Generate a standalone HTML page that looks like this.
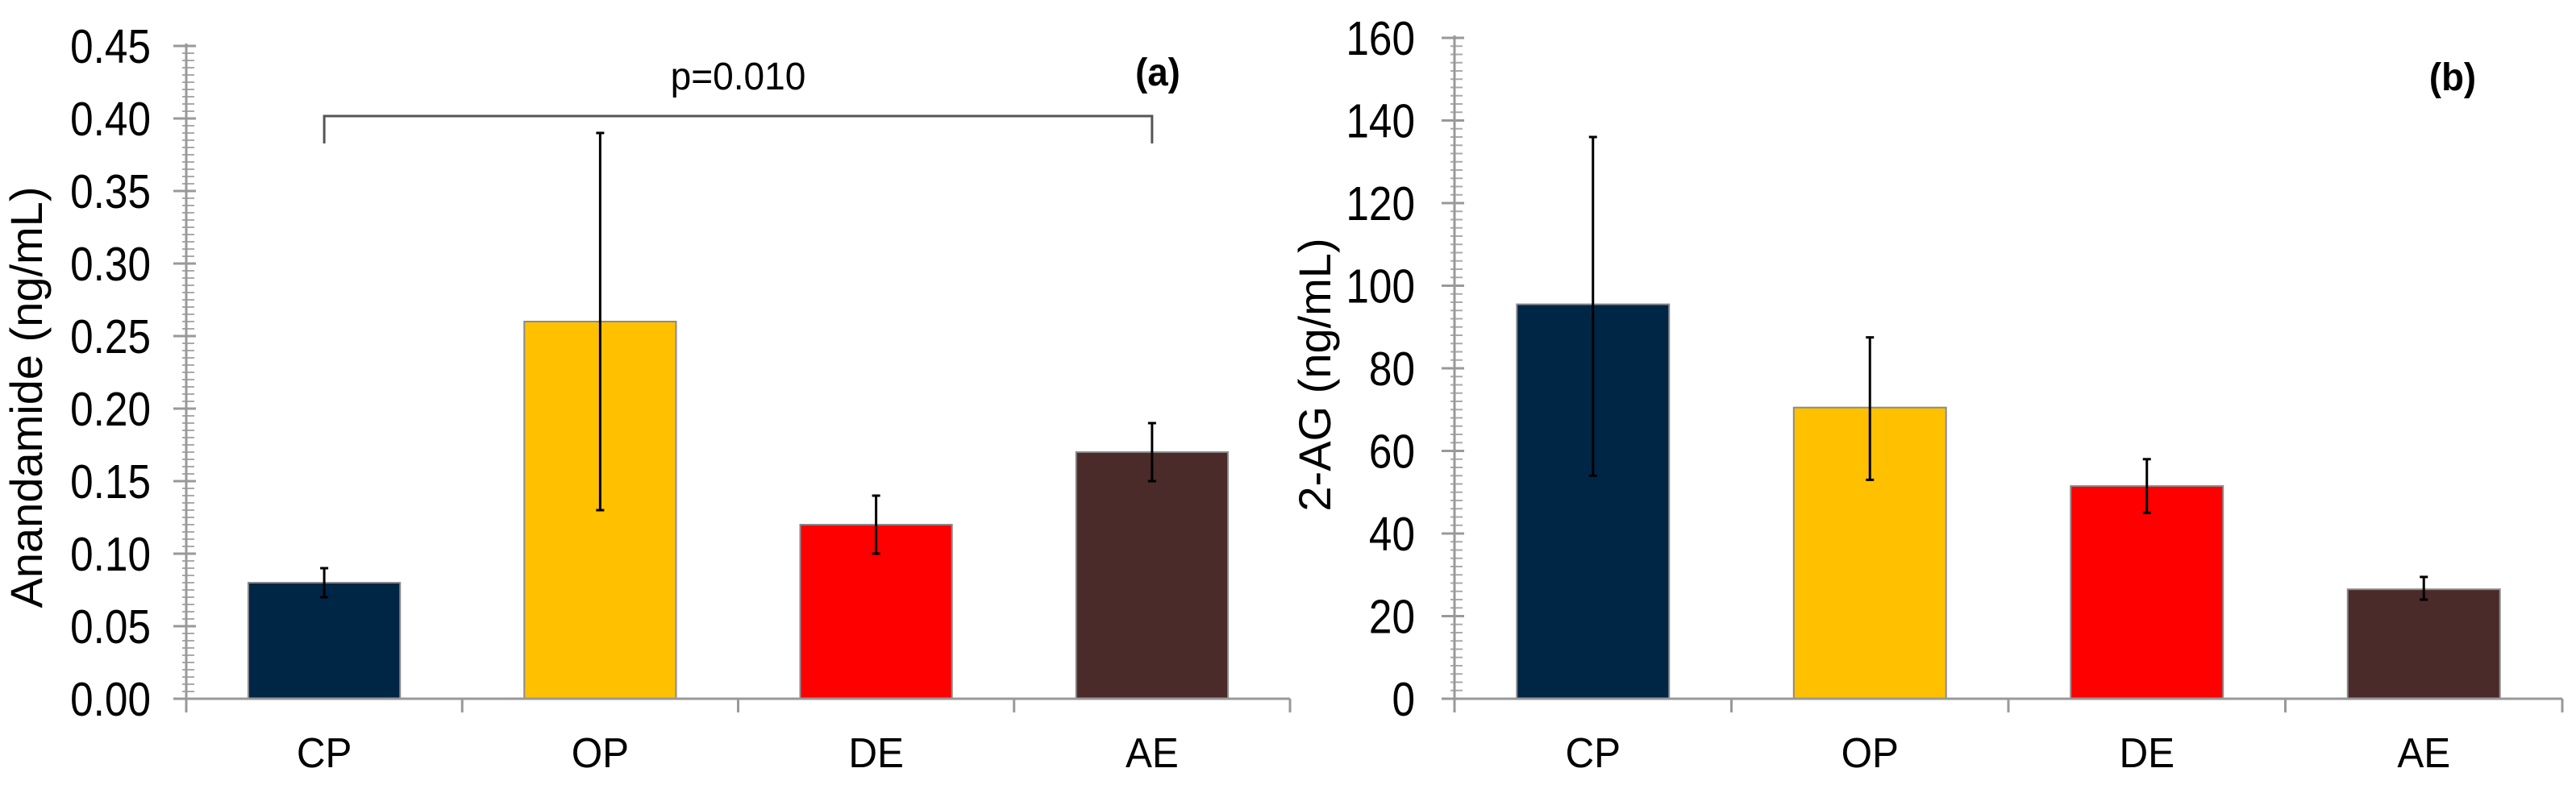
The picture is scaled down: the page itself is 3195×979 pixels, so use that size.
<!DOCTYPE html>
<html><head><meta charset="utf-8"><style>
html,body{margin:0;padding:0;background:#fff;overflow:hidden;}
svg{display:block;font-family:"Liberation Sans",Arial,sans-serif;}
</style></head><body>
<svg id="chart" width="3195" height="979" viewBox="0 0 3195 979" xmlns="http://www.w3.org/2000/svg"></svg>
<script>
const categories = ["CP","OP","DE","AE"];
const colors = ["#002646","#FFC000","#FF0000","#4B2A2A"];
const aValues = [0.08,0.26,0.12,0.17];
const aErrLow = [0.07,0.13,0.10,0.15];
const aErrHigh = [0.09,0.39,0.14,0.19];
const aTicks = ["0.00","0.05","0.10","0.15","0.20","0.25","0.30","0.35","0.40","0.45"];
const bValues = [95.5,70.5,51.5,26.5];
const bErrLow = [54,53,45,24];
const bErrHigh = [136,87.5,58,29.5];
const bTicks = ["0","20","40","60","80","100","120","140","160"];

const svg = document.getElementById('chart');
const NS = 'http://www.w3.org/2000/svg';
function mk(tag, attrs, parent){const e=document.createElementNS(NS,tag);for(const k in attrs)e.setAttribute(k,attrs[k]);(parent||svg).appendChild(e);return e;}
function txt(str,x,y,size,anchor,bold,sx,parent){
  const g=mk('g',{transform:`translate(${x},${y}) scale(${sx},1)`},parent);
  const t=mk('text',{x:0,y:0,'font-size':size,'text-anchor':anchor,'font-weight':bold?'bold':'normal',fill:'#000'},g);
  t.textContent=str;return t;
}
function panel(cfg){
  const g=mk('g',{});
  
  
  const y=v=>cfg.y0+(cfg.y1-cfg.y0)*(v-cfg.min)/(cfg.max-cfg.min);
  const cw=(cfg.xEnd-cfg.x0)/categories.length;
  const nMaj=cfg.ticks.length-1;
  for(let i=0;i<nMaj*10;i++){
    const yy=y(cfg.min+(cfg.max-cfg.min)*i/(nMaj*10));
    if(i%10!==0){const m=mk('line',{x1:cfg.x0-5,x2:cfg.x0+10,y1:yy,y2:yy,stroke:'#aaa','stroke-width':2},g);
    
    }
  }
  cfg.ticks.forEach((lab,i)=>{
    const v=cfg.min+(cfg.max-cfg.min)*i/nMaj, yy=y(v);
    const l=mk('line',{x1:cfg.x0-16,x2:cfg.x0+12,y1:yy,y2:yy,stroke:'#999','stroke-width':3},g);
    
    
    const t=txt(lab,cfg.labelRight,yy+21,59,'end',false,0.87,g);
    
    
  });
  const ya=mk('line',{x1:cfg.x0,x2:cfg.x0,y1:cfg.y1-3,y2:cfg.y0,stroke:'#999','stroke-width':3},g);
  
  
  categories.forEach((c,i)=>{
    const cx=cfg.x0+cw*(i+0.5), bw=cw*0.55;
    const top=y(cfg.values[i]);
    const r=mk('rect',{x:cx-bw/2,y:top,width:bw,height:cfg.y0-top,fill:colors[i],stroke:'#8a8a8a','stroke-width':2},g);
    
    
    const yl=y(cfg.lo[i]), yh=y(cfg.hi[i]);
    const e=mk('path',{d:`M${cx},${yl}V${yh}M${cx-5},${yh}H${cx+5}M${cx-5},${yl}H${cx+5}`,stroke:'#000','stroke-width':3,fill:'none'},g);
    
    
    const t=txt(c,cx,952,52,'middle',false,0.95,g);
    
    
  });
  for(let i=0;i<=categories.length;i++){
    const xx=cfg.x0+cw*i;
    const d=mk('line',{x1:xx,x2:xx,y1:cfg.y0,y2:cfg.y0+17,stroke:'#999','stroke-width':3},g);
    
    
  }
  const xa=mk('line',{x1:cfg.x0,x2:cfg.xEnd,y1:cfg.y0,y2:cfg.y0,stroke:'#999','stroke-width':3},g);
  
  
  const tg=mk('g',{transform:`translate(${cfg.titleX},${cfg.titleY}) rotate(-90)`},g);
  const tt=mk('text',{x:0,y:0,'font-size':56,'text-anchor':'middle',fill:'#000'},tg);
  tt.textContent=cfg.title;
  
  
  const pl=txt(cfg.panelLabel,cfg.plX,cfg.plY,48,'middle',true,0.95,g);
  
  
  return {g,y,cw};
}
const pa=panel({name:'panel-a-anandamide',x0:231,xEnd:1600,y0:867,y1:57,min:0,max:0.45,ticks:aTicks,values:aValues,lo:aErrLow,hi:aErrHigh,labelRight:187,title:'Anandamide (ng/mL)',titleX:52,titleY:493,panelLabel:'(a)',plX:1436,plY:106});
const pb=panel({name:'panel-b-2ag',x0:1804,xEnd:3178,y0:867,y1:47,min:0,max:160,ticks:bTicks,values:bValues,lo:bErrLow,hi:bErrHigh,labelRight:1755,title:'2-AG (ng/mL)',titleX:1650,titleY:465,panelLabel:'(b)',plX:3042,plY:112});
const bx1=231+pa.cw*0.5, bx2=231+pa.cw*3.5;
const br=mk('path',{d:`M${bx1},178V144H${bx2}V178`,stroke:'#555','stroke-width':3,fill:'none'});


const pv=txt('p=0.010',(bx1+bx2)/2,111,48,'middle',false,0.96);


</script>
</body></html>
